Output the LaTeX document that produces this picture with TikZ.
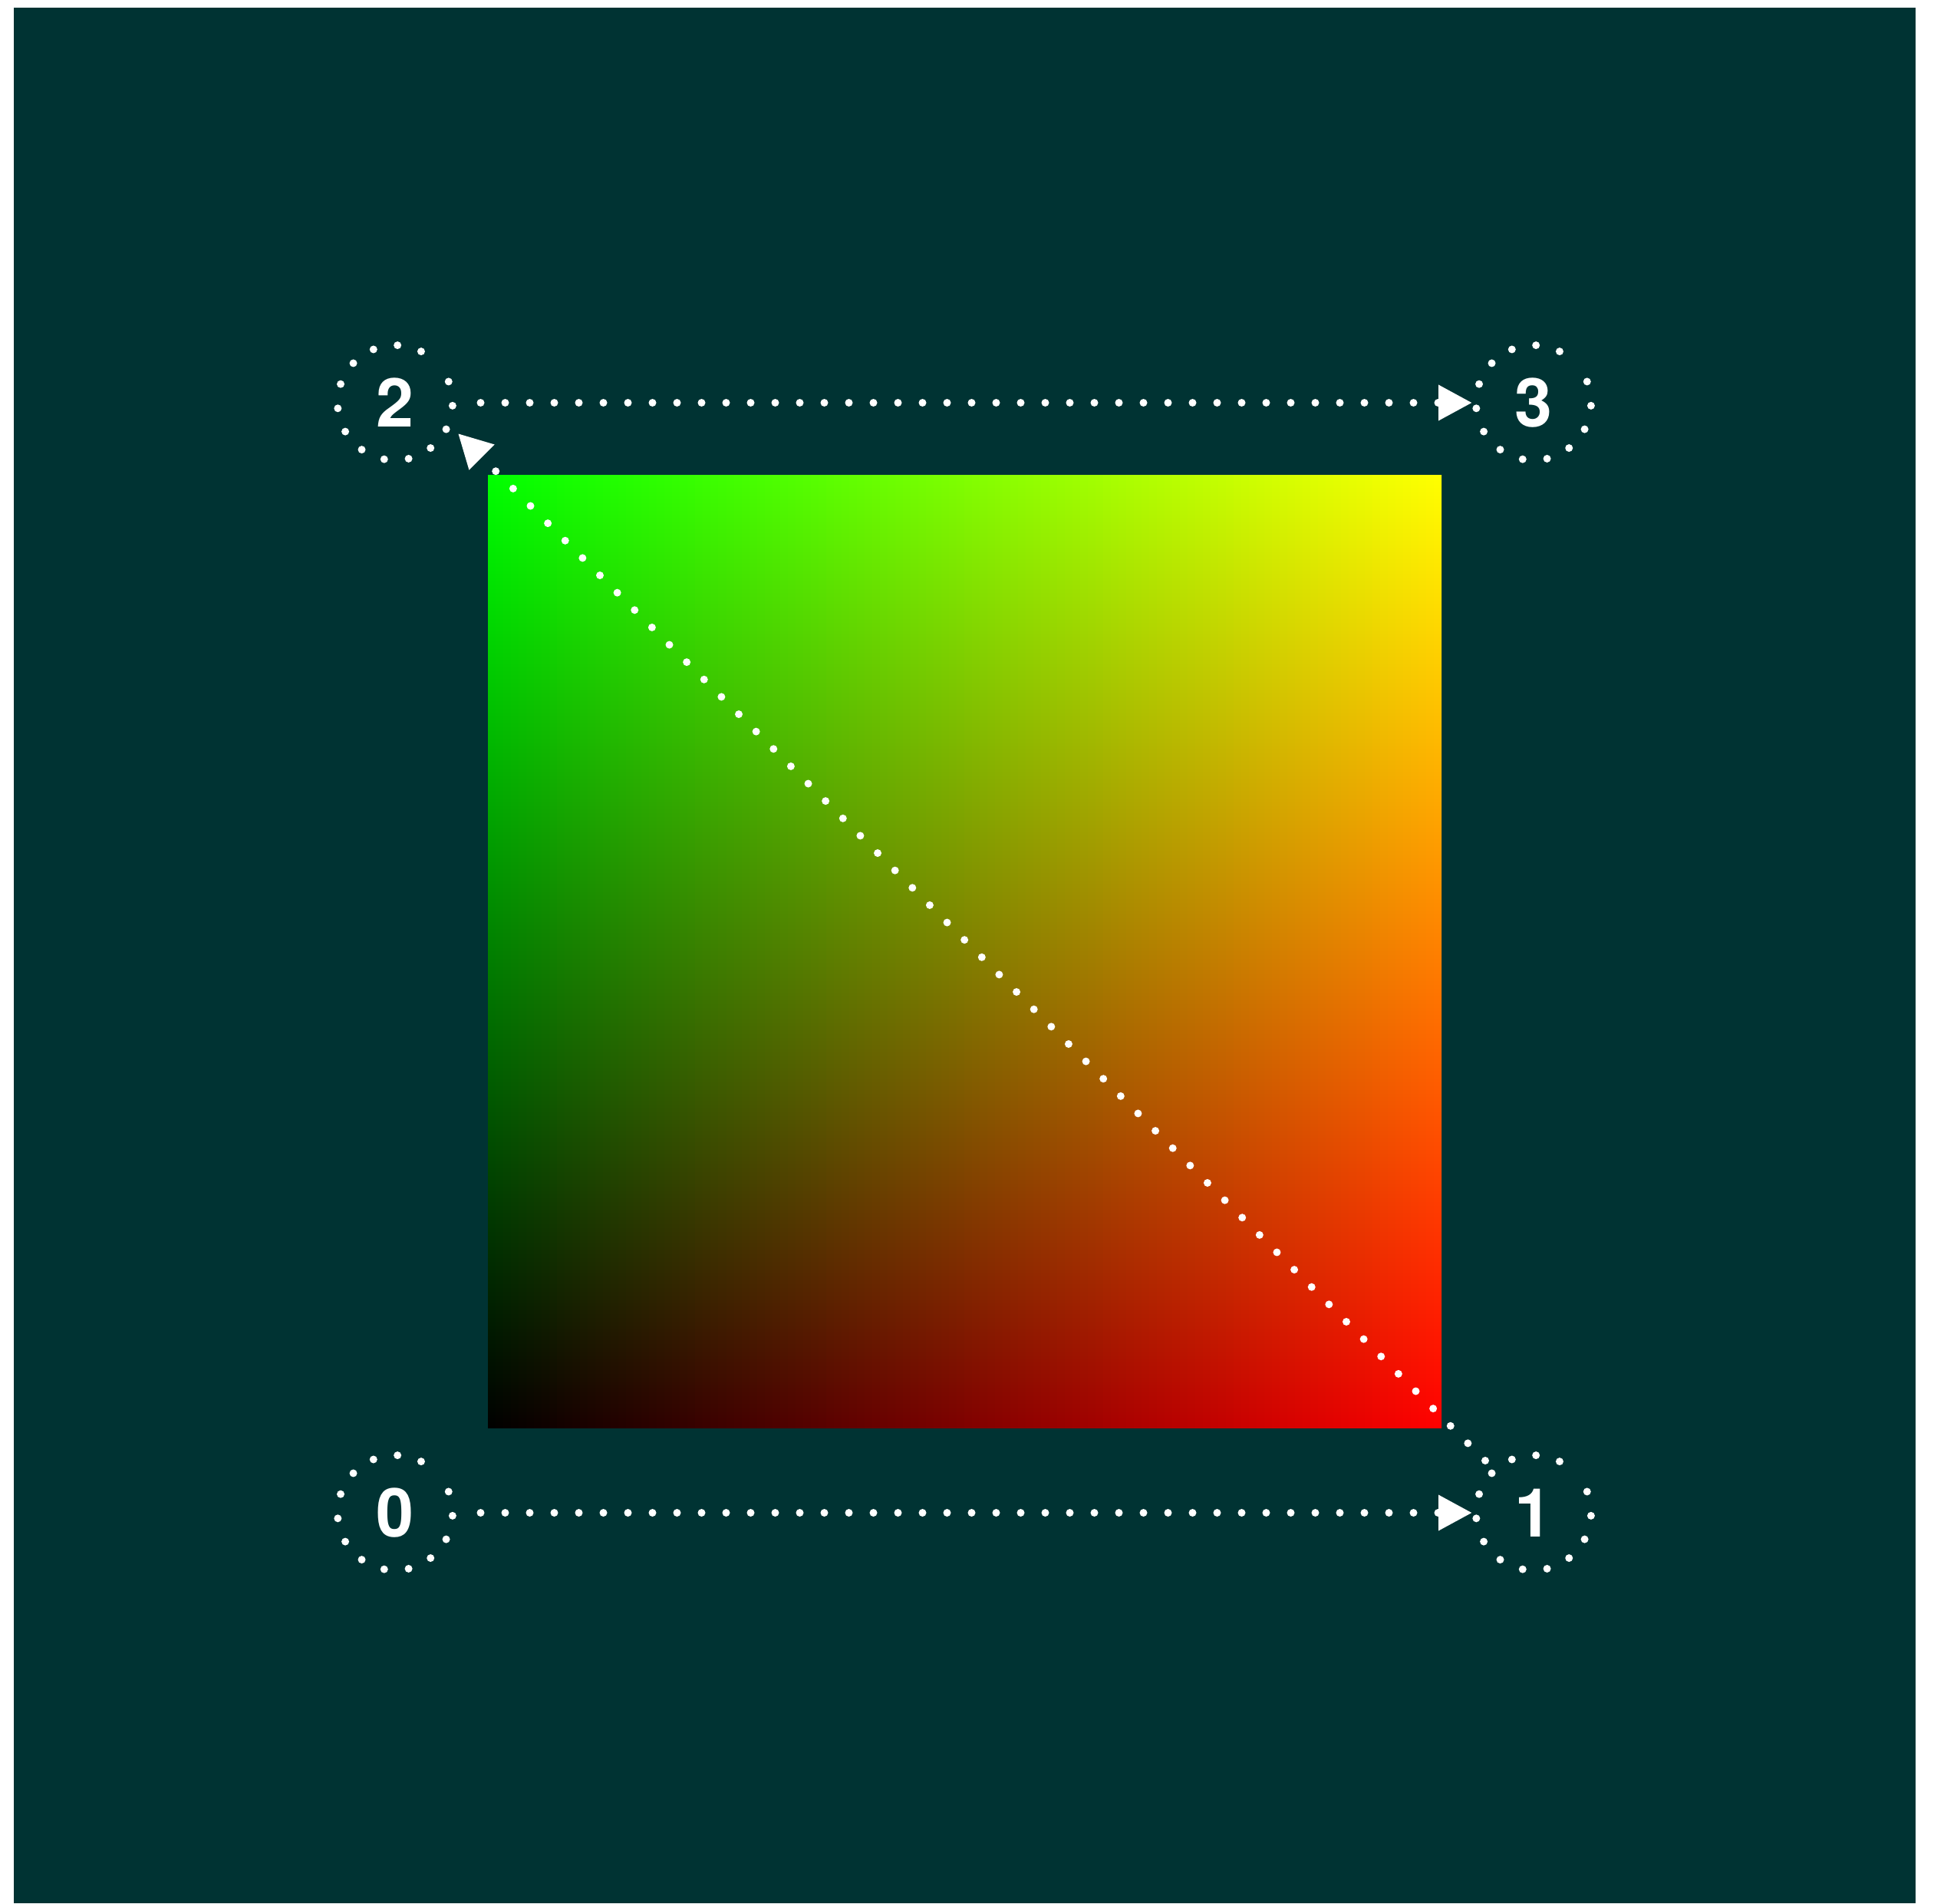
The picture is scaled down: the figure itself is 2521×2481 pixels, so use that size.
\documentclass[tikz,border=0pt]{standalone}
\usepackage{fontspec}
\setmainfont{TeX Gyre Heros}
\usetikzlibrary{arrows.meta}
\definecolor{bg}{RGB}{0,51,51}
\begin{document}
\begin{tikzpicture}[x=1pt,y=-1pt,
  vnode/.style={circle,minimum size=150pt,inner sep=0pt,outer sep=5pt,text=white,
    font=\fontsize{88}{88}\selectfont\bfseries},
  dotring/.style={draw=white,line width=10pt,line cap=round,
    dash pattern=on 0pt off 32.07pt,dash phase=8.4pt},
  arr/.style={draw=white,line width=10pt,line cap=round,dash pattern=on 0pt off 32pt,
    -{Triangle[length=44pt,width=44pt]}},
  harr/.style={arr,dash phase=0.5pt}]
\useasboundingbox (0,0) rectangle (2521,2481);
\fill[white] (0,0) rectangle (2521,2481);
\fill[bg] (18,10) rectangle (2497,2481);
% gradient square: red grows left->right, green grows bottom->top
\begin{scope}
  \clip (636,619) rectangle (1879,1861);
  \foreach \i in {0,...,123} {
    \pgfmathsetmacro\rr{(\i+0.5)/124}
    \definecolor{tc}{rgb}{\rr,1,0}
    \definecolor{bc}{rgb}{\rr,0,0}
    \shade[top color=tc,bottom color=bc] ({636+10.024*\i},619) rectangle ({647+10.024*\i},1861);
  }
\end{scope}
\node[vnode] (n0) at (515,1972) {0};
\node[vnode] (n1) at (1999,1972) {1};
\node[vnode] (n2) at (515,525) {2};
\node[vnode] (n3) at (1999,525) {3};
\foreach \n in {n0,n1,n2,n3}
  \draw[dotring] ([shift={(45:75pt)}]\n.center) arc[start angle=45,end angle=405,radius=75pt];
\draw[harr] (n0) -- (n1);
\draw[harr] (n2) -- (n3);
\draw[arr] ([shift={(-63pt,68pt)}]n1.center) -- ([shift={(82pt,-40pt)}]n2.center);
\end{tikzpicture}
\end{document}
